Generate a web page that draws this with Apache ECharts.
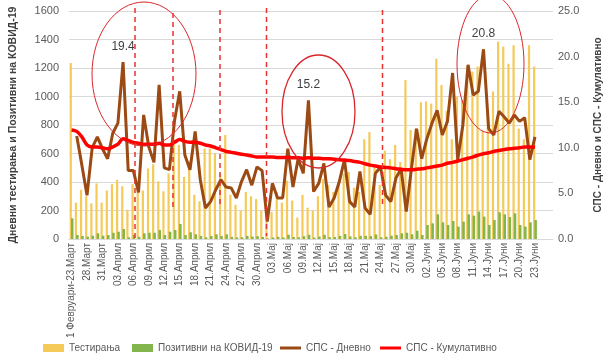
<!DOCTYPE html>
<html><head><meta charset="utf-8">
<script src="https://cdn.jsdelivr.net/npm/echarts@6/dist/echarts.min.js"></script>
<style>html,body{margin:0;padding:0;background:#fff}#c{width:614px;height:363px}</style>
</head><body><div id="c"></div>
<script>
var categories = ["1 Февруари-23.Март","26.Март","27.Март","28.Март","29.Март","30.Март","31.Март",
"01.Април","02.Април","03.Април","04.Април","05.Април","06.Април","07.Април","08.Април","09.Април","10.Април",
"11.Април","12.Април","13.Април","14.Април","15.Април","16.Април","17.Април","18.Април","19.Април","20.Април",
"21.Април","22.Април","23.Април","24.Април","25.Април","26.Април","27.Април","28.Април","29.Април","30.Април",
"01.Мај","02.Мај","03.Мај","04.Мај","05.Мај","06.Мај","07.Мај","08.Мај","09.Мај","10.Мај",
"11.Мај","12.Мај","13.Мај","14.Мај","15.Мај","16.Мај","17.Мај","18.Мај","19.Мај","20.Мај",
"21.Мај","22.Мај","23.Мај","24.Мај","25.Мај","26.Мај","27.Мај","28.Мај","29.Мај","30.Мај","31.Мај",
"01.Јуни","02.Јуни","03.Јуни","04.Јуни","05.Јуни","06.Јуни","07.Јуни","08.Јуни","09.Јуни","10.Јуни",
"11.Јуни","12.Јуни","13.Јуни","14.Јуни","15.Јуни","16.Јуни","17.Јуни","18.Јуни","19.Јуни","20.Јуни",
"21.Јуни","22.Јуни","23.Јуни"];

var tests = [1235,255,345,300,250,390,255,340,385,415,
370,205,385,340,340,495,525,405,335,460,
700,660,435,545,310,265,635,635,600,455,
730,310,240,200,330,300,280,200,120,190,
330,255,410,270,150,310,220,200,300,420,
380,330,380,460,470,360,330,700,750,500,
380,620,560,660,540,1115,765,775,960,965,
950,1265,1080,900,700,1000,975,1210,1175,1210,
760,900,1035,1385,1350,1230,1360,775,700,1360,1210];

var positives = [145,28,21,16,23,40,23,28,44,51,
70,12,28,15,40,44,44,63,28,51,
63,105,28,47,33,21,12,21,33,21,
33,15,11,12,22,17,20,14,4,11,
15,11,30,14,12,20,30,10,17,30,
13,14,22,35,18,12,22,22,20,32,
12,16,23,28,40,44,33,58,28,98,
110,173,117,98,126,87,122,173,164,192,
157,98,133,187,173,154,180,98,87,117,133];

var spsDaily = [null,11.3,8.1,4.8,10.0,11.2,9.9,8.8,11.6,12.7,
19.4,7.5,7.5,5.1,13.6,10.1,8.4,16.9,7.8,7.6,
13.0,16.2,9.2,7.6,11.8,6.5,3.4,4.1,5.4,6.5,
5.7,5.6,4.5,6.3,7.6,5.9,7.9,7.5,1.9,6.1,
4.5,4.5,9.9,5.7,8.8,7.2,15.2,5.2,6.1,8.3,
3.5,4.5,6.3,8.7,4.1,3.5,7.4,3.4,2.7,7.2,
7.9,4.8,4.1,6.7,7.7,3.0,7.7,12.1,8.8,11.0,
12.7,14.1,11.4,12.9,18.2,8.7,12.5,19.1,15.8,16.2,
20.8,12.1,11.4,14.0,13.4,12.7,13.6,12.9,13.3,8.7,11.2];

var spsCumulative = [11.95,11.8,11.2,10.3,10.1,10.1,10.0,9.9,10.1,10.4,
11.0,10.8,10.6,10.5,10.4,10.4,10.4,10.5,10.3,10.3,
10.6,10.9,10.7,10.6,10.6,10.5,10.3,10.2,10.0,9.8,
9.6,9.5,9.4,9.3,9.2,9.1,9.0,9.0,9.0,9.0,
8.95,8.95,8.95,8.9,8.9,8.85,8.9,8.85,8.85,8.8,
8.8,8.75,8.7,8.65,8.6,8.5,8.4,8.25,8.1,8.0,
7.9,7.85,7.8,7.7,7.65,7.6,7.6,7.65,7.7,7.8,
7.9,8.0,8.1,8.3,8.4,8.55,8.7,8.85,9.0,9.2,
9.35,9.45,9.6,9.7,9.8,9.9,9.95,10.0,10.1,10.1,10.05];

var peakIdx = [10, 46, 80];
var leftTicks = {min:0, max:1600, interval:200};
var rightTicks = {min:0, max:25, interval:5};
var seriesNames = ["Тестирања","Позитивни на КОВИД-19","СПС - Дневно","СПС - Кумулативно"];
var leftName = "Дневни тестирања и Позитивни на КОВИД-19";
var rightName = "СПС - Дневно и СПС - Кумулативно";

var axisCats = categories.concat(["","",""]);
var font = "'Liberation Sans', Arial, sans-serif";
var legendText = {fontSize:10,color:'#595959',fontFamily:font};
function lg(name, left, h){
  return {left:left,top:343,padding:0,itemWidth:21,itemHeight:h,itemGap:4,icon:'rect',
    textStyle:legendText,data:[name]};
}
var chart = echarts.init(document.getElementById('c'), null, {renderer:'canvas'});
chart.setOption({
  animation:false,
  textStyle:{fontFamily:font},
  grid:{left:67,right:61,top:11,bottom:124,containLabel:false},
  legend:[lg(seriesNames[0],43,8), lg(seriesNames[1],132,8), lg(seriesNames[2],280,3), lg(seriesNames[3],380,3)],
  xAxis:{type:'category',data:axisCats,boundaryGap:true,
    axisLine:{lineStyle:{color:'#D9D9D9'}},axisTick:{show:false},
    axisLabel:{rotate:90,interval:2,fontSize:10,color:'#595959',margin:4,fontFamily:font}},
  yAxis:[{type:'value',min:leftTicks.min,max:leftTicks.max,interval:leftTicks.interval,
    splitLine:{lineStyle:{color:'#D9D9D9'}},axisLine:{show:false},axisTick:{show:false},
    axisLabel:{fontSize:11,color:'#595959',margin:10,fontFamily:font,formatter:function(v){return String(v);}},
    name:leftName,nameLocation:'middle',nameGap:50,nameRotate:90,
    nameTextStyle:{fontSize:10.5,fontWeight:'bold',color:'#404040',fontFamily:font}},
   {type:'value',position:'right',min:rightTicks.min,max:rightTicks.max,interval:rightTicks.interval,
    splitLine:{show:false},axisLine:{show:false},axisTick:{show:false},
    axisLabel:{fontSize:11,color:'#595959',margin:5,fontFamily:font,formatter:function(v){return v.toFixed(1);}},
    name:rightName,nameLocation:'middle',nameGap:40,nameRotate:90,
    nameTextStyle:{fontSize:10,fontWeight:'bold',color:'#404040',fontFamily:font}}],
  series:[
    {name:seriesNames[0],type:'bar',data:tests,barWidth:2.2,barGap:'-40%',itemStyle:{color:'#F5CA58'}},
    {name:seriesNames[1],type:'bar',data:positives,barWidth:2.5,itemStyle:{color:'#82B54B'}},
    {name:seriesNames[2],type:'line',yAxisIndex:1,data:spsDaily,symbol:'none',
      lineStyle:{color:'#9C4A14',width:3},itemStyle:{color:'#9C4A14'},
      markPoint:{symbol:'circle',symbolSize:1,itemStyle:{color:'rgba(0,0,0,0)'},
        label:{show:true,position:'top',distance:9,fontSize:12,color:'#404040',fontFamily:font,
          formatter:function(p){return p.value.toFixed(1);}},
        data:peakIdx.map(function(i){return {coord:[i,spsDaily[i]],value:spsDaily[i]};})}},
    {name:seriesNames[3],type:'line',yAxisIndex:1,data:spsCumulative,symbol:'none',smooth:0.3,
      lineStyle:{color:'#FF0000',width:3.5},itemStyle:{color:'#FF0000'}}
  ],
  graphic:[
    {type:'ellipse',z:100,shape:{cx:144,cy:74,rx:52,ry:72},style:{fill:'none',stroke:'#D9262B',lineWidth:1}},
    {type:'ellipse',z:100,shape:{cx:318.5,cy:111.5,rx:36.5,ry:56.5},style:{fill:'none',stroke:'#D9262B',lineWidth:1.3}},
    {type:'ellipse',z:100,shape:{cx:490.5,cy:64,rx:33.5,ry:69},style:{fill:'none',stroke:'#D9262B',lineWidth:1}},
    {type:'line',z:100,shape:{x1:135,y1:8,x2:135,y2:238},style:{stroke:'#E8322E',lineWidth:1.5,lineDash:[5,4]}},
    {type:'line',z:100,shape:{x1:173,y1:13,x2:173,y2:210},style:{stroke:'#E8322E',lineWidth:1.5,lineDash:[5,4]}},
    {type:'line',z:100,shape:{x1:220,y1:10,x2:220,y2:206},style:{stroke:'#E8322E',lineWidth:1.5,lineDash:[5,4]}},
    {type:'line',z:100,shape:{x1:266.5,y1:8,x2:266.5,y2:236},style:{stroke:'#E8322E',lineWidth:1.5,lineDash:[5,4]}},
    {type:'line',z:100,shape:{x1:382.5,y1:10,x2:382.5,y2:208},style:{stroke:'#E8322E',lineWidth:1.5,lineDash:[5,4]}}
  ]
});
</script></body></html>
